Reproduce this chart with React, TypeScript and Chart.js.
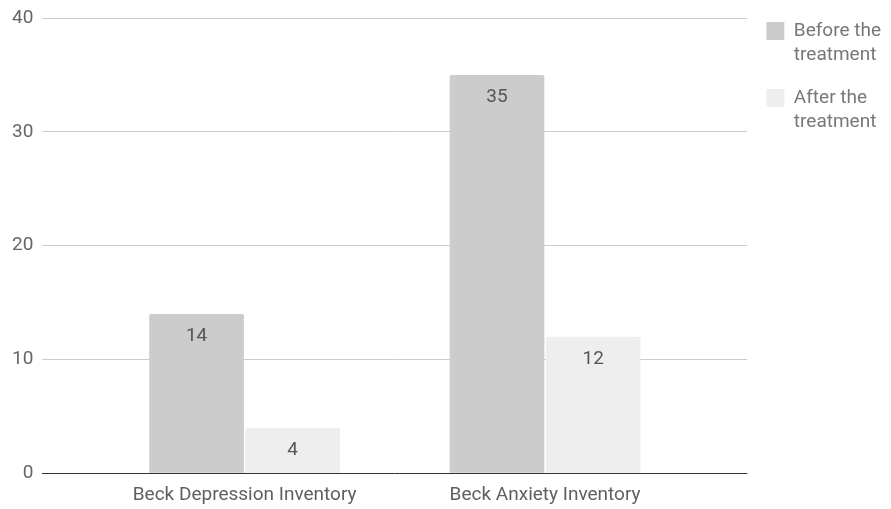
import React, { useEffect, useRef } from "react";
import { Chart, registerables } from "chart.js";

Chart.register(...registerables);

const categories = ["Beck Depression Inventory", "Beck Anxiety Inventory"];
const seriesNames = ["Before the treatment", "After the treatment"];
const legendLines = [
  ["Before the", "treatment"],
  ["After the", "treatment"],
];
const beforeValues = [14, 35];
const afterValues = [4, 12];
const seriesColors = ["#cccccc", "#eeeeee"];
const yTicks = [0, 10, 20, 30, 40];

const FONT = "Roboto";

const valueLabels = {
  id: "valueLabels",
  afterDatasetsDraw(chart: any) {
    const ctx = chart.ctx;
    ctx.save();
    ctx.font = `19px ${FONT}`;
    ctx.fillStyle = "#555555";
    ctx.textAlign = "center";
    ctx.textBaseline = "middle";
    chart.data.datasets.forEach((ds: any, di: number) => {
      const meta = chart.getDatasetMeta(di);
      meta.data.forEach((el: any, i: number) => {
        const v = ds.data[i].y;
        ctx.fillText(String(v), el.x, el.y + 22.5);
      });
    });
    ctx.restore();
  },
};

export default function App() {
  const ref = useRef<HTMLCanvasElement | null>(null);
  useEffect(() => {
    if (!ref.current) return;
    const chart = new Chart(ref.current, {
      type: "bar",
      data: {
        datasets: [
          {
            label: seriesNames[0],
            data: categories.map((_, i) => ({ x: i, y: beforeValues[i] })),
            backgroundColor: seriesColors[0],
            borderRadius: 2,
            borderSkipped: "start",
          },
          {
            label: seriesNames[1],
            data: categories.map((_, i) => ({ x: i, y: afterValues[i] })),
            backgroundColor: seriesColors[1],
            borderRadius: 2,
            borderSkipped: "start",
          },
        ],
      },
      options: {
        animation: false,
        responsive: true,
        maintainAspectRatio: false,
        layout: { padding: { top: 2.5, left: 3, right: 0, bottom: -9 } },
        datasets: {
          bar: { categoryPercentage: 0.64, barPercentage: 0.985 },
        },
        scales: {
          x: {
            type: "linear",
            min: -0.6733,
            max: 1.6733,
            bounds: "data",
            offset: false,
            afterBuildTicks: (s: any) => {
              s.ticks = categories.map((_, i) => ({ value: i }));
            },
            grid: { display: false, drawTicks: false, offset: false },
            border: { display: false },
            ticks: {
              autoSkip: false,
              maxRotation: 0,
              padding: 11,
              color: "#5f5f5f",
              font: { family: FONT, size: 19 },
              callback: (v: any) =>
                Number.isInteger(v) && categories[v] ? categories[v] : "",
            },
          },
          y: {
            min: yTicks[0],
            max: yTicks[yTicks.length - 1],
            afterFit: (s: any) => {
              s.paddingTop = 18;
            },
            border: { display: false },
            grid: {
              drawTicks: false,
              color: (c: any) => (c.tick && c.tick.value === 0 ? "#333333" : "#cccccc"),
            },
            ticks: {
              stepSize: 10,
              padding: 9,
              color: "#666666",
              font: { family: FONT, size: 19 },
            },
          },
        },
        plugins: {
          tooltip: { enabled: false },
          legend: {
            position: "right",
            align: "start",
            maxWidth: 145,
            labels: {
              boxWidth: 18,
              boxHeight: 18,
              padding: 19,
              color: "#777777",
              font: { family: FONT, size: 19, lineHeight: "24px" },
              generateLabels: (ch: any) => {
                const items = (Chart.defaults.plugins.legend.labels as any).generateLabels(ch);
                return items.map((it: any, i: number) => ({
                  ...it,
                  text: legendLines[i],
                  lineWidth: 0,
                }));
              },
            },
          },
        },
      } as any,
      plugins: [valueLabels],
    });
    return () => chart.destroy();
  }, []);
  return (
    <div style={{ position: "absolute", left: 0, top: 0, width: 891, height: 509 }}>
      <canvas ref={ref} />
    </div>
  );
}
